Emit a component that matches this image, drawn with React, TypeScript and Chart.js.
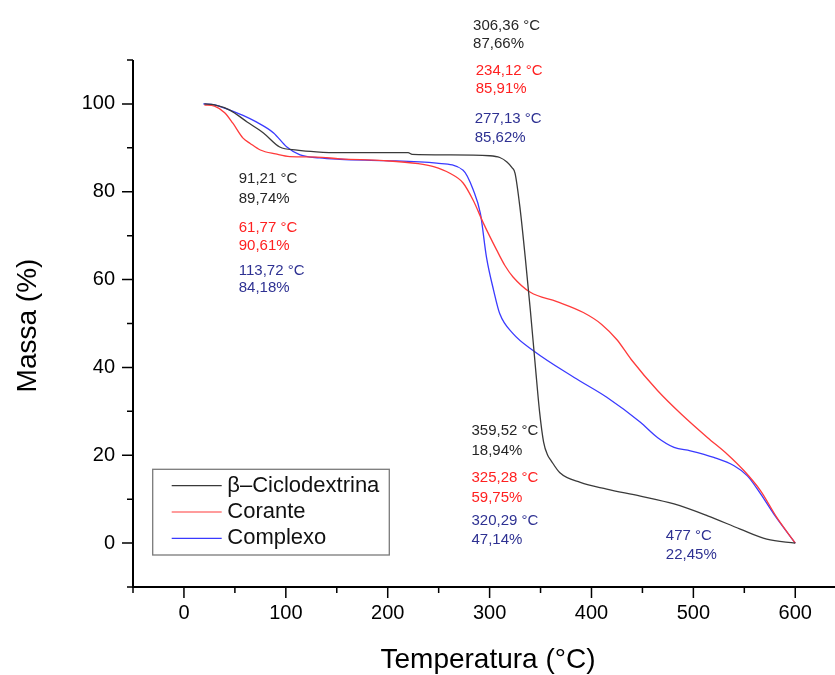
import React, { useEffect, useRef } from 'react';
import { Chart, registerables } from 'chart.js';

Chart.register(...registerables);

const FONT = '"Liberation Sans", Arial, Helvetica, sans-serif';

// ---- Data (temperature °C, mass %) ----
const betaTemp = [20, 30, 45, 62, 78, 94, 111, 130, 153, 200, 220, 224, 260, 300, 310, 317, 322, 325, 330, 335, 340, 345, 349, 353, 357, 360, 369, 389, 415, 448, 481, 514, 546, 572, 600];
const betaMass = [100, 99.8, 98.6, 95.9, 93.4, 90.2, 89.5, 89.1, 88.9, 88.9, 88.9, 88.5, 88.4, 88.2, 87.8, 86.8, 85.5, 84.2, 76, 65, 53, 40, 30, 23, 20, 18.9, 16, 13.8, 12.3, 10.7, 8.9, 6.2, 3.2, 0.9, 0];

const corTemp = [20, 30, 40, 48, 58, 65, 75, 90, 104, 130, 153, 196, 230, 245, 261, 274, 284, 294, 307, 315, 323, 340, 366, 392, 410, 425, 439, 465, 488, 514, 533, 550, 566, 582, 600];
const corMass = [99.8, 99.5, 98, 95.6, 92.2, 91, 89.5, 88.6, 88, 87.9, 87.5, 87.1, 86.4, 85.7, 84.2, 82, 78, 72.8, 66.7, 63.2, 60.6, 57.1, 55, 52.5, 49.8, 46.3, 41.8, 34.7, 29.4, 24, 20.3, 16.4, 11.9, 5.8, 0];

const compTemp = [19, 30, 45, 58, 71, 88, 101, 114, 133, 153, 196, 248, 274, 284, 291, 297, 304, 310, 323, 343, 383, 415, 448, 465, 481, 497, 520, 540, 553, 566, 579, 600];
const compMass = [100, 99.8, 98.6, 97.4, 95.9, 93.4, 90.2, 88.4, 87.7, 87.4, 87.1, 86.5, 84.9, 80.4, 75, 65, 57.5, 52.2, 47.7, 43.8, 37.7, 33.2, 27.5, 24, 21.8, 21, 19.5, 17.6, 15.3, 11.2, 6.6, 0];

const seriesNames = ['β–Ciclodextrina', 'Corante', 'Complexo'];
const seriesColors = ['#3a3a3a', '#ff3a3a', '#3a3aff'];

// ---- Axes ----
const xMajorTicks = [0, 100, 200, 300, 400, 500, 600];
const xMinorTicks = [-50, 50, 150, 250, 350, 450, 550];
const yMajorTicks = [0, 20, 40, 60, 80, 100];
const yMinorTicks = [-10, 10, 30, 50, 70, 90, 110];
const xTitle = 'Temperatura (°C)';
const yTitle = 'Massa (%)';

// ---- Annotations (anchored in data units: left edge °C, baseline %) ----
const annoText = [
  '306,36 °C', '87,66%', '234,12 °C', '85,91%', '277,13 °C', '85,62%',
  '91,21 °C', '89,74%', '61,77 °C', '90,61%', '113,72 °C', '84,18%',
  '359,52 °C', '18,94%', '325,28 °C', '59,75%', '320,29 °C', '47,14%',
  '477 °C', '22,45%',
];
const annoColor = [
  'k', 'k', 'r', 'r', 'b', 'b',
  'k', 'k', 'r', 'r', 'b', 'b',
  'k', 'k', 'r', 'r', 'b', 'b',
  'b', 'b',
];
const annoTemp = [
  283.8, 283.8, 286.4, 286.4, 285.4, 285.4,
  53.8, 53.8, 53.8, 53.8, 53.8, 53.8,
  282.2, 282.2, 282.2, 282.2, 282.2, 282.2,
  473, 473,
];
const annoMass = [
  116.8, 112.7, 106.6, 102.4, 95.6, 91.3,
  81.9, 77.4, 70.9, 66.7, 61.0, 57.2,
  24.5, 20.0, 13.9, 9.35, 4.03, -0.14,
  0.62, -3.56,
];
const textColors: Record<string, string> = { k: '#262626', r: '#ff2020', b: '#2e3192' };

const toPoints = (xs: number[], ys: number[]) => xs.map((x, i) => ({ x, y: ys[i] }));

const decorPlugin = {
  id: 'decor',
  afterDraw(chart: any) {
    const { ctx, chartArea: ca, scales } = chart;
    const xs = scales.x;
    const ys = scales.y;
    ctx.save();

    // axis lines
    ctx.strokeStyle = '#000';
    ctx.lineWidth = 2;
    ctx.beginPath();
    ctx.moveTo(ca.left, ca.top);
    ctx.lineTo(ca.left, ca.bottom);
    ctx.lineTo(ca.right, ca.bottom);
    ctx.stroke();

    // tick marks
    ctx.lineWidth = 1.5;
    ctx.beginPath();
    for (const v of yMajorTicks) {
      const y = ys.getPixelForValue(v);
      ctx.moveTo(ca.left - 11, y);
      ctx.lineTo(ca.left, y);
    }
    for (const v of yMinorTicks) {
      const y = ys.getPixelForValue(v);
      ctx.moveTo(ca.left - 6, y);
      ctx.lineTo(ca.left, y);
    }
    for (const v of xMajorTicks) {
      const x = xs.getPixelForValue(v);
      ctx.moveTo(x, ca.bottom);
      ctx.lineTo(x, ca.bottom + 11);
    }
    for (const v of xMinorTicks) {
      const x = xs.getPixelForValue(v);
      ctx.moveTo(x, ca.bottom);
      ctx.lineTo(x, ca.bottom + 6);
    }
    ctx.stroke();

    // axis titles
    ctx.fillStyle = '#000';
    ctx.font = `28px ${FONT}`;
    ctx.textAlign = 'center';
    ctx.textBaseline = 'middle';
    ctx.fillText(xTitle, (ca.left + ca.right) / 2 + 4, 660);
    ctx.save();
    ctx.translate(28, (ca.top + ca.bottom) / 2 + 2);
    ctx.rotate(-Math.PI / 2);
    ctx.fillText(yTitle, 0, 0);
    ctx.restore();

    // legend
    const bx = ca.left + 19.7;
    const by = ca.bottom - 117.7;
    const bw = 236.6;
    const bh = 85.7;
    ctx.fillStyle = '#fff';
    ctx.fillRect(bx, by, bw, bh);
    ctx.strokeStyle = '#7a7a7a';
    ctx.lineWidth = 1.3;
    ctx.strokeRect(bx, by, bw, bh);
    ctx.font = `22px ${FONT}`;
    ctx.textAlign = 'left';
    ctx.textBaseline = 'middle';
    seriesNames.forEach((name, i) => {
      const ry = by + 16.4 + i * 26.3;
      ctx.strokeStyle = seriesColors[i];
      ctx.lineWidth = 1.2;
      ctx.beginPath();
      ctx.moveTo(bx + 19, ry);
      ctx.lineTo(bx + 69, ry);
      ctx.stroke();
      ctx.fillStyle = '#111';
      ctx.fillText(name, bx + 74.6, ry);
    });

    // annotations
    ctx.font = `15px ${FONT}`;
    ctx.textAlign = 'left';
    ctx.textBaseline = 'alphabetic';
    annoText.forEach((t, i) => {
      ctx.fillStyle = textColors[annoColor[i]];
      ctx.fillText(t, xs.getPixelForValue(annoTemp[i]), ys.getPixelForValue(annoMass[i]));
    });

    ctx.restore();
  },
};

export default function App() {
  const ref = useRef<HTMLCanvasElement>(null);

  useEffect(() => {
    if (!ref.current) return;
    const mk = (i: number, xs: number[], ys: number[]) => ({
      label: seriesNames[i],
      data: toPoints(xs, ys),
      borderColor: seriesColors[i],
      backgroundColor: seriesColors[i],
      borderWidth: 1.3,
      pointRadius: 0,
      pointHoverRadius: 0,
      fill: false,
      cubicInterpolationMode: 'monotone' as const,
    });
    const chart = new Chart(ref.current, {
      type: 'line',
      data: {
        datasets: [
          mk(0, betaTemp, betaMass),
          mk(1, corTemp, corMass),
          mk(2, compTemp, compMass),
        ],
      },
      options: {
        animation: false,
        responsive: false,
        maintainAspectRatio: false,
        layout: { padding: { top: 60, left: 0, right: 0, bottom: 0 } },
        plugins: {
          legend: { display: false },
          tooltip: { enabled: false },
          title: { display: false },
        },
        scales: {
          x: {
            type: 'linear',
            min: -50,
            max: 639,
            grid: { display: false, drawTicks: false },
            border: { display: false },
            ticks: {
              stepSize: 50,
              includeBounds: false,
              autoSkip: false,
              maxRotation: 0,
              padding: 14,
              color: '#000',
              font: { family: FONT, size: 20 },
              callback: (v: any) => (xMajorTicks.includes(Number(v)) ? String(v) : ''),
            },
            afterFit: (s: any) => {
              s.height = 88;
              s.paddingLeft = 0;
              s.paddingRight = 0;
            },
          },
          y: {
            type: 'linear',
            min: -10,
            max: 110,
            grid: { display: false, drawTicks: false },
            border: { display: false },
            ticks: {
              stepSize: 10,
              autoSkip: false,
              padding: 18,
              color: '#000',
              font: { family: FONT, size: 20 },
              callback: (v: any) => (yMajorTicks.includes(Number(v)) ? String(v) : ''),
            },
            afterFit: (s: any) => {
              s.width = 133;
              s.paddingTop = 0;
              s.paddingBottom = 0;
            },
          },
        },
      },
      plugins: [decorPlugin],
    });
    return () => chart.destroy();
  }, []);

  return (
    <div style={{ position: 'absolute', left: 0, top: 0, width: 835, height: 675, background: '#fff' }}>
      <canvas ref={ref} width={835} height={675} style={{ display: 'block', width: 835, height: 675 }} />
    </div>
  );
}
